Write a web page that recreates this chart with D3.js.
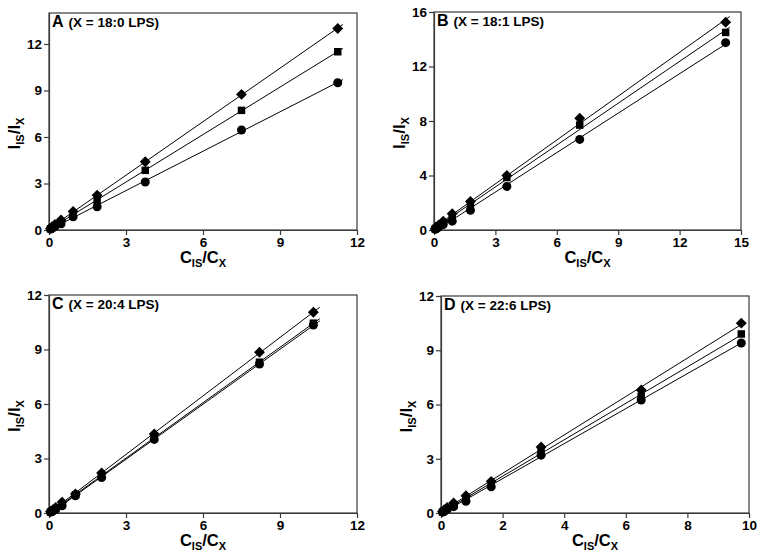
<!DOCTYPE html>
<html>
<head>
<meta charset="utf-8">
<script src="https://cdn.jsdelivr.net/npm/d3@7"></script>
<style>
  body { margin: 0; background: #fff; }
  text { font-family: "Liberation Sans", Arial, Helvetica, sans-serif; font-weight: bold; fill: #000; }
</style>
</head>
<body>
<svg id="chart" width="762" height="559"></svg>
<script>
// panel A (X = 18:0 LPS)
const xA = [0.06, 0.12, 0.23, 0.47, 0.94, 1.875, 3.75, 7.5, 11.25];
const diaA = [0.1, 0.2, 0.35, 0.65, 1.2, 2.25, 4.4, 8.75, 13.0];
const sqA = [0.08, 0.15, 0.28, 0.5, 1.05, 1.9, 3.85, 7.72, 11.5];
const cirA = [0.06, 0.12, 0.22, 0.4, 0.85, 1.5, 3.1, 6.45, 9.5];

// panel B (X = 18:1 LPS)
const xB = [0.06, 0.11, 0.22, 0.45, 0.89, 1.78, 3.56, 7.12, 14.25];
const diaB = [0.1, 0.2, 0.35, 0.65, 1.2, 2.1, 4.0, 8.2, 15.25];
const sqB = [0.08, 0.15, 0.3, 0.5, 1.0, 1.85, 3.85, 7.7, 14.5];
const cirB = [0.05, 0.1, 0.2, 0.4, 0.65, 1.45, 3.2, 6.65, 13.75];

// panel C (X = 20:4 LPS)
const xC = [0.06, 0.13, 0.26, 0.51, 1.03, 2.05, 4.1, 8.2, 10.3];
const diaC = [0.08, 0.15, 0.3, 0.6, 1.05, 2.2, 4.35, 8.85, 11.05];
const sqC = [0.06, 0.12, 0.25, 0.45, 1.0, 2.05, 4.15, 8.3, 10.45];
const cirC = [0.05, 0.1, 0.2, 0.4, 0.95, 1.95, 4.05, 8.2, 10.35];

// panel D (X = 22:6 LPS)
const xD = [0.05, 0.1, 0.2, 0.41, 0.81, 1.63, 3.25, 6.5, 9.75];
const diaD = [0.08, 0.15, 0.3, 0.55, 0.95, 1.75, 3.65, 6.8, 10.5];
const sqD = [0.06, 0.12, 0.25, 0.45, 0.8, 1.6, 3.4, 6.45, 9.9];
const cirD = [0.05, 0.1, 0.2, 0.35, 0.65, 1.45, 3.2, 6.25, 9.4];

const letters = ["A", "B", "C", "D"];
const titles = ["(X = 18:0 LPS)", "(X = 18:1 LPS)", "(X = 20:4 LPS)", "(X = 22:6 LPS)"];
const xTicks = [[0, 3, 6, 9, 12], [0, 3, 6, 9, 12, 15], [0, 3, 6, 9, 12], [0, 2, 4, 6, 8, 10]];
const yTicks = [[0, 3, 6, 9, 12], [0, 4, 8, 12, 16], [0, 3, 6, 9, 12], [0, 3, 6, 9, 12]];
const xMax = [12, 15, 12, 10];
const yMax = [14, 16, 12, 12];
const lineEnd = [11.45, 14.45, 10.55, 9.82];

const panels = [
  { x: xA, series: [cirA, sqA, diaA], box: [49, 357, 13, 230] },
  { x: xB, series: [cirB, sqB, diaB], box: [434, 741, 12, 230] },
  { x: xC, series: [cirC, sqC, diaC], box: [49, 357, 295, 513] },
  { x: xD, series: [cirD, sqD, diaD], box: [441, 749, 296, 513] },
];

const shapes = [
  d3.symbol().type(d3.symbolCircle).size(64),
  d3.symbol().type(d3.symbolSquare).size(56),
  d3.symbol().type(d3.symbolDiamond2).size(76),
];

const svg = d3.select("#chart");
const frameColor = "#3a3a3a";

const fit = (xs, ys) => {
  let mx = d3.mean(xs), my = d3.mean(ys);
  let sxy = d3.sum(xs, (x, i) => (x - mx) * (ys[i] - my));
  let sxx = d3.sum(xs, (x) => (x - mx) * (x - mx));
  let b = sxy / sxx;
  return { b: b, a: my - b * mx };
};

panels.forEach((p, k) => {
  let [l, r, t, b] = p.box;
  let x = d3.scaleLinear().domain([0, xMax[k]]).range([l, r]);
  let y = d3.scaleLinear().domain([0, yMax[k]]).range([b, t]);
  let g = svg.append("g").attr("id", "panel" + letters[k]);

  // frame
  g.append("rect")
    .attr("x", l).attr("y", t)
    .attr("width", r - l).attr("height", b - t)
    .attr("fill", "none")
    .attr("stroke", frameColor)
    .attr("stroke-width", 1.2);

  let xAxis = g.append("g")
    .attr("transform", "translate(0," + b + ")")
    .call(d3.axisBottom(x).tickValues(xTicks[k]).tickSize(5).tickPadding(2).tickSizeOuter(0));
  let yAxis = g.append("g")
    .attr("transform", "translate(" + l + ",0)")
    .call(d3.axisLeft(y).tickValues(yTicks[k]).tickSize(5).tickPadding(2).tickSizeOuter(0));
  [xAxis, yAxis].forEach((ax) => {
    ax.select(".domain").attr("stroke", frameColor).attr("stroke-width", 1.2);
    ax.selectAll(".tick line").attr("stroke", frameColor).attr("stroke-width", 1.2);
    ax.selectAll(".tick text")
      .attr("font-family", "Liberation Sans, Arial, sans-serif")
      .attr("font-weight", "bold")
      .attr("font-size", 13.5)
      .attr("fill", "#000");
  });

  // regression lines
  p.series.forEach((ys) => {
    let f = fit(p.x, ys);
    g.append("line")
      .attr("x1", x(0)).attr("y1", y(f.a))
      .attr("x2", x(lineEnd[k])).attr("y2", y(f.a + f.b * lineEnd[k]))
      .attr("stroke", "#000")
      .attr("stroke-width", 1);
  });

  // markers
  p.series.forEach((ys, s) => {
    g.selectAll(".m" + s)
      .data(p.x.map((xv, i) => [xv, ys[i]]))
      .enter()
      .append("path")
      .attr("class", "m" + s)
      .attr("d", shapes[s])
      .attr("transform", (d) => "translate(" + x(d[0]) + "," + y(d[1]) + ")")
      .attr("fill", "#000");
  });

  // panel label
  let lab = g.append("text").attr("x", l + 3).attr("y", t + 14);
  lab.append("tspan").attr("font-size", 16).text(letters[k]);
  lab.append("tspan").attr("font-size", 13.5).attr("dx", 5).text(titles[k]);

  // x title
  let xt = g.append("text")
    .attr("x", (l + r) / 2)
    .attr("y", b + 33)
    .attr("text-anchor", "middle")
    .attr("font-size", 16.5);
  xt.append("tspan").text("C");
  xt.append("tspan").attr("font-size", 11).attr("dy", 4).text("IS");
  xt.append("tspan").attr("dy", -4).text("/C");
  xt.append("tspan").attr("font-size", 11).attr("dy", 4).text("X");

  // y title
  let ytx = l - 29, yty = (t + b) / 2 + 12;
  let yt = g.append("text")
    .attr("transform", "translate(" + ytx + "," + yty + ") rotate(-90)")
    .attr("text-anchor", "middle")
    .attr("font-size", 17);
  yt.append("tspan").text("I");
  yt.append("tspan").attr("font-size", 11).attr("dy", 4).text("IS");
  yt.append("tspan").attr("dy", -4).text("/I");
  yt.append("tspan").attr("font-size", 11).attr("dy", 4).text("X");
});
</script>
</body>
</html>
